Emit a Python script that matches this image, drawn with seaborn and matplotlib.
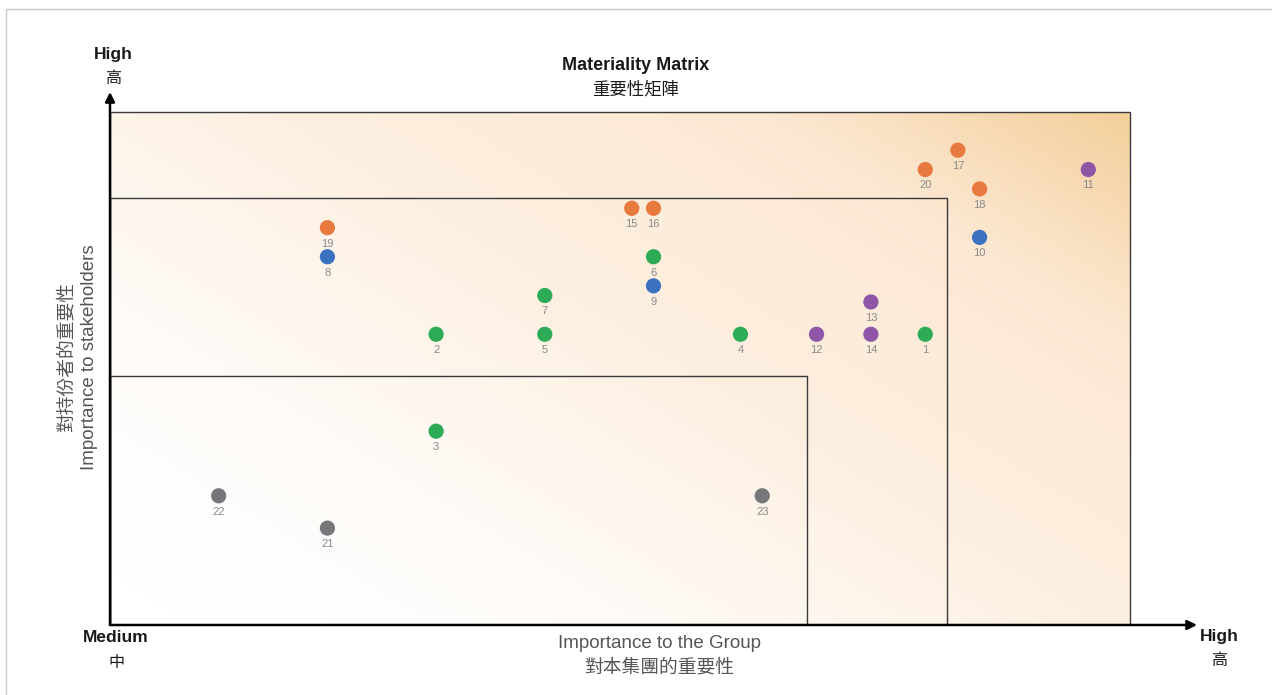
import numpy as np
import pandas as pd
import matplotlib
matplotlib.use("Agg")
import matplotlib.pyplot as plt
from matplotlib.colors import LinearSegmentedColormap
from matplotlib.patches import Rectangle
import seaborn as sns

# --- datos de la matriz ---
topic_ids = list(range(1, 24))
group_importance = [7.5, 3.0, 3.0, 5.8, 4.0, 5.0, 4.0, 2.0, 5.0, 8.0,
                    9.0, 6.5, 7.0, 7.0, 4.8, 5.0, 7.8, 8.0, 2.0, 7.5,
                    2.0, 1.0, 6.0]
stakeholder_importance = [9.0, 9.0, 6.0, 9.0, 9.0, 11.4, 10.2, 11.4, 10.5, 12.0,
                          14.1, 9.0, 10.0, 9.0, 12.9, 12.9, 14.7, 13.5, 12.3, 14.1,
                          3.0, 4.0, 4.0]
category = ["green", "green", "green", "green", "green", "green", "green",
            "blue", "blue", "blue",
            "purple", "purple", "purple", "purple",
            "orange", "orange", "orange", "orange", "orange", "orange",
            "grey", "grey", "grey"]

palette = {"orange": "#e8793f", "blue": "#3b72c0", "green": "#2eab57",
           "purple": "#8f56a8", "grey": "#77767b"}

# niveles de las zonas (derecha, arriba)
zone_right = [6.41, 7.70, 9.38]
zone_top = [7.71, 13.22, 15.88]

df = pd.DataFrame({"id": topic_ids, "x": group_importance,
                   "y": stakeholder_importance, "cat": category})

sns.set_theme(style="white")
plt.rcParams['font.family'] = ['Liberation Sans', 'Noto Sans CJK TC', 'DejaVu Sans']

fig = plt.figure(figsize=(12.72, 6.95), dpi=100)
ax = fig.add_axes([110 / 1272, 70 / 695, 1087 / 1272, 533 / 695])
ax.set_xlim(0, 10.0)
ax.set_ylim(0, 16.5)
for s in ax.spines.values():
    s.set_visible(False)
ax.set_xticks([])
ax.set_yticks([])
ax.patch.set_alpha(0)

# fondo degradado
cmap = LinearSegmentedColormap.from_list(
    "peach", ["#ffffff", "#fdefe0", "#fce8d3", "#f3cf9a"], N=256)
gx, gy = np.meshgrid(np.linspace(0, 1, 300), np.linspace(0, 1, 300))
t = np.clip((gx * 0.55 + gy * 0.45), 0, 1) ** 1.8
ax.imshow(t, extent=[0, zone_right[-1], 0, zone_top[-1]], origin="lower",
          cmap=cmap, aspect="auto", zorder=0, vmin=0, vmax=1)

# zonas
for r, tp in zip(zone_right, zone_top):
    ax.add_patch(Rectangle((0, 0), r, tp, fill=False, edgecolor="#3a3a3a",
                           linewidth=1.0, zorder=1))

# ejes con flechas
ax.annotate("", xy=(10.0, 0), xytext=(0, 0),
            arrowprops=dict(arrowstyle="-|>", color="black", lw=1.8,
                            mutation_scale=14, shrinkA=0, shrinkB=0), zorder=3)
ax.annotate("", xy=(0, 16.5), xytext=(0, 0),
            arrowprops=dict(arrowstyle="-|>", color="black", lw=1.8,
                            mutation_scale=14, shrinkA=0, shrinkB=0), zorder=3)

# puntos
sns.scatterplot(data=df, x="x", y="y", hue="cat", palette=palette, s=120,
                linewidth=0, legend=False, ax=ax, zorder=4)
for _, row in df.iterrows():
    ax.annotate(str(row["id"]), (row["x"], row["y"]), xytext=(0, -11.5),
                textcoords="offset points", ha="center", va="center",
                fontsize=8, color="#8a8a8a", zorder=5)
ax.set_xlabel("")
ax.set_ylabel("")

# textos
dark = "#1a1a1a"
fig.text(636 / 1272, 1 - 66 / 695, "Materiality Matrix", ha="center", va="center",
         fontsize=13, fontweight="bold", color=dark)
fig.text(636 / 1272, 1 - 89 / 695, "重要性矩陣", ha="center", va="center",
         fontsize=12.5, color=dark)
fig.text(113 / 1272, 1 - 55 / 695, "High", ha="center", va="center",
         fontsize=12.5, fontweight="bold", color=dark)
fig.text(113 / 1272, 1 - 79 / 695, "高", ha="center", va="center",
         fontsize=11.5, color=dark)
fig.text(116 / 1272, 1 - 637 / 695, "Medium", ha="center", va="center",
         fontsize=12.5, fontweight="bold", color=dark)
fig.text(116 / 1272, 1 - 662 / 695, "中", ha="center", va="center",
         fontsize=11.5, color=dark)
fig.text(1219 / 1272, 1 - 637 / 695, "High", ha="center", va="center",
         fontsize=12.5, fontweight="bold", color=dark)
fig.text(1219 / 1272, 1 - 661 / 695, "高", ha="center", va="center",
         fontsize=11.5, color=dark)
fig.text(659 / 1272, 1 - 644 / 695, "Importance to the Group", ha="center",
         va="center", fontsize=13.5, color="#555555")
fig.text(659 / 1272, 1 - 668 / 695, "對本集團的重要性", ha="center",
         va="center", fontsize=13.5, color="#555555")
fig.text(67 / 1272, 1 - 357 / 695, "對持份者的重要性", ha="center",
         va="center", rotation=90, fontsize=13.5, color="#555555")
fig.text(90 / 1272, 1 - 357 / 695, "Importance to stakeholders", ha="center",
         va="center", rotation=90, fontsize=13.5, color="#555555")

# marco de la imagen
fig.patches.append(Rectangle((6 / 1272, -0.1), 1.2, 1 - 9 / 695 + 0.1,
                             transform=fig.transFigure, fill=False,
                             edgecolor="#c8c8c8", linewidth=1.0))

fig.savefig("out.png", dpi=100)
plt.close(fig)
